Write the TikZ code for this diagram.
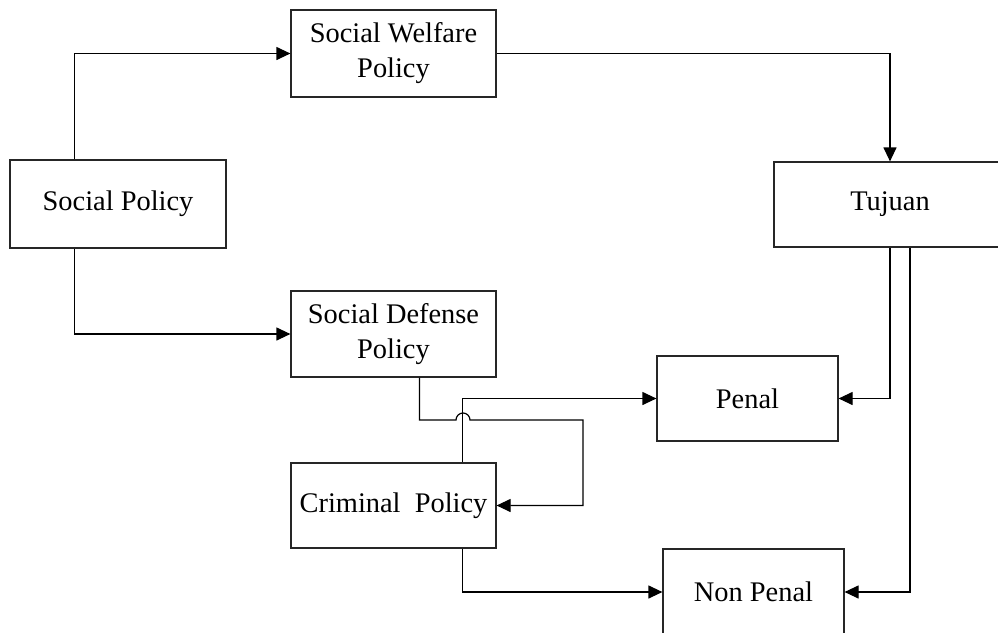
\documentclass[tikz,border=0pt]{standalone}
\usepackage{fontspec}
\setmainfont{Liberation Serif}
\usetikzlibrary{calc, positioning, arrows.meta}

\begin{document}
\begin{tikzpicture}[
  x=0.5pt, y=-0.5pt,
  box/.style={rectangle, draw=black!85, line width=0.6pt,
    minimum width=102.5pt, minimum height=43pt,
    font=\fontsize{14.2}{17.5}\selectfont, align=center},
  arrow/.style={-{Triangle[length=7pt, width=6.5pt]}, line width=0.6pt}
]
\useasboundingbox (0,0) rectangle (998,633);

\node[box, minimum width=108pt, minimum height=44pt] (SP) at (118,204) {Social Policy};
\node[box, minimum height=43.5pt] (SW) at (393.5,53.5) {Social Welfare\\Policy};
\node[box] (SD) at (393.5,334) {Social Defense\\Policy};
\node[box, minimum height=42.5pt] (CP) at (393.5,505.5) {Criminal\ \ Policy};
\node[box, minimum width=116pt, minimum height=42.5pt] (TJ) at (890,204.5) {Tujuan};
\node[box, minimum width=90.5pt, minimum height=42.5pt] (PN) at (747.5,398.5) {Penal};
\node[box, minimum width=90.5pt] (NP) at (753.5,592) {Non Penal};

\draw[arrow] ([xshift=32.5pt]SP.north west) |- (SW.west);
\draw[arrow] ([xshift=32.5pt]SP.south west) |- (SD.west);
\draw[arrow] (SW.east) -| (TJ.north);
\draw[arrow] (TJ.south) |- (PN.east);
\draw[arrow] ([xshift=10pt]TJ.south) |- (NP.east);
\draw[arrow] ([xshift=86pt]CP.north west) |- (PN.west);
\draw[arrow] ([xshift=86pt]CP.south west) |- (NP.west);
% line hops over the Criminal -> Penal connector
\draw[arrow] ([xshift=64.5pt]SD.south west) |- (456,420)
  arc[start angle=180, end angle=360, radius=7] -- (583,420) |- (CP.east);
\end{tikzpicture}
\end{document}
